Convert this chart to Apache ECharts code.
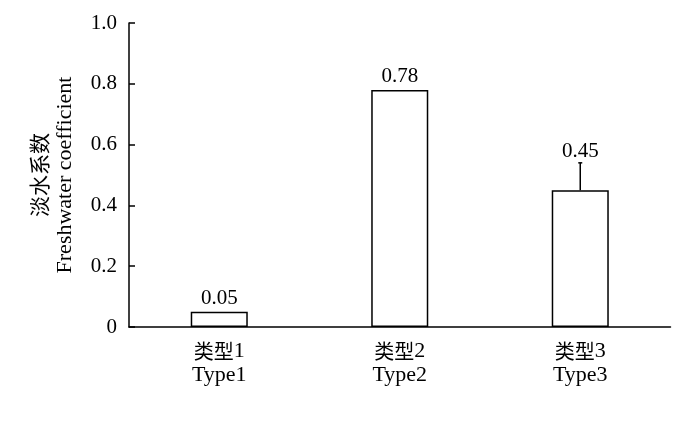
<!DOCTYPE html>
<html>
<head>
<meta charset="utf-8">
<script src="https://cdn.jsdelivr.net/npm/echarts@6/dist/echarts.min.js"></script>
<style>html,body{margin:0;padding:0;background:#fff}#c{width:700px;height:428px}</style>
</head>
<body>
<div id="c"></div>
<script>
var categoriesCn = ['类型', '类型', '类型'];
var categoriesNum = ['1', '2', '3'];
var categoriesEn = ['Type1', 'Type2', 'Type3'];
var values = [0.05, 0.78, 0.45];
var errors = [0, 0, 0.09];
var yTicks = [0, 0.2, 0.4, 0.6, 0.8, 1.0];
var yNameCn = '淡水系数';
var yNameEn = 'Freshwater coefficient';

var FONT = '"Liberation Serif", "Noto Sans CJK SC", serif';
var CJK = '"Noto Sans CJK SC", sans-serif';
var chart = echarts.init(document.getElementById('c'));
var categories = categoriesCn.map(function (c, i) { return c + '|' + categoriesNum[i] + '|' + categoriesEn[i]; });
var errData = values.map(function (v, i) { return [i, v, errors[i]]; });

chart.setOption({
  animation: false,
  backgroundColor: '#fff',
  grid: { left: 129, right: 29.5, top: 23, bottom: 101 },
  xAxis: {
    type: 'category',
    data: categories,
    axisLine: { lineStyle: { color: '#000', width: 1.5 } },
    axisTick: { show: false },
    axisLabel: {
      interval: 0,
      color: '#000', fontFamily: FONT, fontSize: 22, lineHeight: 24, margin: 12,
      formatter: function (v) {
        var p = v.split('|');
        return '{cn|' + p[0] + '}{en|' + p[1] + '}\n{en|' + p[2] + '}';
      },
      rich: {
        cn: { fontFamily: CJK, fontSize: 20, lineHeight: 24, color: '#000', fontWeight: 'normal' },
        en: { fontFamily: FONT, fontSize: 22, lineHeight: 24, color: '#000' }
      }
    }
  },
  yAxis: {
    type: 'value',
    min: 0, max: 1, interval: 0.2,
    name: '{cn|' + yNameCn + '}\n{en|' + yNameEn + '}',
    nameLocation: 'middle',
    nameGap: 51,
    nameTextStyle: {
      color: '#000', fontFamily: FONT, fontSize: 22, lineHeight: 26,
      rich: {
        cn: { fontFamily: CJK, fontSize: 21, lineHeight: 26, color: '#000', fontWeight: 'normal' },
        en: { fontFamily: FONT, fontSize: 22, lineHeight: 26, color: '#000' }
      }
    },
    axisLine: { show: true, lineStyle: { color: '#000', width: 1.5 } },
    axisTick: { show: true, inside: true, length: 6, lineStyle: { color: '#000', width: 1.5 } },
    splitLine: { show: false },
    axisLabel: {
      color: '#000', fontFamily: FONT, fontSize: 21, margin: 12,
      formatter: function (v) {
        var t = yTicks.filter(function (x) { return Math.abs(x - v) < 1e-9; })[0];
        if (t === undefined) return '';
        return t === 0 ? '0' : t.toFixed(1);
      }
    }
  },
  series: [
    {
      type: 'bar',
      data: values,
      barWidth: '31.6%',
      itemStyle: { color: '#fff', borderColor: '#000', borderWidth: 1.5 },
      z: 2
    },
    {
      type: 'custom',
      data: errData,
      z: 3,
      renderItem: function (params, api) {
        var i = api.value(0), v = api.value(1), e = api.value(2);
        var base = api.coord([i, v]);
        var top = api.coord([i, v + e]);
        var children = [];
        if (e > 0) {
          children.push({ type: 'line', shape: { x1: base[0], y1: base[1], x2: top[0], y2: top[1] }, style: { stroke: '#000', lineWidth: 1.5 } });
          children.push({ type: 'line', shape: { x1: top[0] - 2, y1: top[1], x2: top[0] + 2, y2: top[1] }, style: { stroke: '#000', lineWidth: 1.5 } });
        }
        children.push({
          type: 'text',
          style: {
            text: v.toFixed(2), x: top[0], y: top[1] - (e > 0 ? 1 : 3),
            align: 'center', verticalAlign: 'bottom',
            font: '21px ' + FONT, fill: '#000'
          }
        });
        return { type: 'group', children: children };
      }
    }
  ]
});
</script>
</body>
</html>
